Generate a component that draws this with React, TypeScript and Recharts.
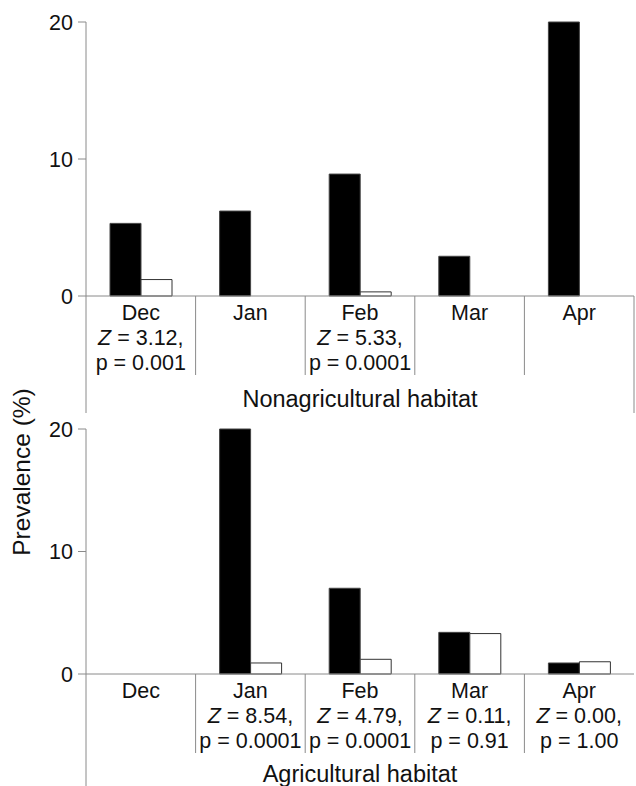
import React from 'react';
import { BarChart, Bar, XAxis, YAxis, Label } from 'recharts';

const months = ['Dec', 'Jan', 'Feb', 'Mar', 'Apr'];

// nonagricultural habitat
const nonAgBlack = [5.3, 6.2, 8.9, 2.9, 20];
const nonAgWhite = [1.2, 0, 0.3, 0, 0];
const nonAgZ = ['3.12', null, '5.33', null, null];
const nonAgP = ['0.001', null, '0.0001', null, null];

// agricultural habitat
const agBlack = [0, 20, 7.0, 3.4, 0.9];
const agWhite = [0, 0.9, 1.2, 3.3, 1.0];
const agZ = [null, '8.54', '4.79', '0.11', '0.00'];
const agP = [null, '0.0001', '0.0001', '0.91', '1.00'];

const yTicks = [0, 10, 20];

const FONT = '"Liberation Sans", Arial, sans-serif';
const AXIS = '#8a8a8a';
const W = 636;
const Y_AXIS_W = 86;
const M_RIGHT = 2;
const HALF_BAND = (W - Y_AXIS_W - M_RIGHT) / months.length / 2;
const TXT = 21.5;

const buildRows = (black: number[], white: number[]) =>
  months.map((m, i) => ({ month: m, black: black[i], white: white[i] }));

function makeTick(
  zs: (string | null)[],
  ps: (string | null)[],
  sepLen: number,
  edgeLen: number,
  rightEdge: boolean
) {
  return (props: any) => {
    const { x, y, payload, index } = props;
    const z = zs[index];
    const p = ps[index];
    const isLast = index === months.length - 1;
    return (
      <g>
        {index === 0 && (
          <line x1={x - HALF_BAND} x2={x - HALF_BAND} y1={y} y2={y + edgeLen} stroke={AXIS} />
        )}
        {!isLast && (
          <line x1={x + HALF_BAND} x2={x + HALF_BAND} y1={y} y2={y + sepLen} stroke={AXIS} />
        )}
        {isLast && rightEdge && (
          <line x1={x + HALF_BAND} x2={x + HALF_BAND} y1={y} y2={y + edgeLen} stroke={AXIS} />
        )}
        <text x={x} y={y + 24} textAnchor="middle" fontSize={TXT} fontFamily={FONT} fill="#111">
          {payload.value}
        </text>
        {z && (
          <text x={x} y={y + 49} textAnchor="middle" fontSize={TXT} fontFamily={FONT} fill="#111">
            <tspan fontStyle="italic">Z</tspan>
            {` = ${z},`}
          </text>
        )}
        {p && (
          <text x={x} y={y + 74} textAnchor="middle" fontSize={TXT} fontFamily={FONT} fill="#111">
            {`p = ${p}`}
          </text>
        )}
      </g>
    );
  };
}

function habitatLabel(text: string, dy: number) {
  return (props: any) => {
    const vb = props.viewBox;
    return (
      <text
        x={vb.x + vb.width / 2}
        y={vb.y + dy}
        textAnchor="middle"
        fontSize={23.5}
        fontFamily={FONT}
        fill="#111"
      >
        {text}
      </text>
    );
  };
}

function Panel(props: {
  rows: { month: string; black: number; white: number }[];
  height: number;
  top: number;
  xHeight: number;
  zs: (string | null)[];
  ps: (string | null)[];
  edgeLen: number;
  rightEdge: boolean;
  label: string;
  labelDy: number;
}) {
  const { rows, height, top, xHeight, zs, ps, edgeLen, rightEdge, label, labelDy } = props;
  return (
    <BarChart
      width={W}
      height={height}
      data={rows}
      margin={{ top, right: M_RIGHT, left: 0, bottom: 0 }}
      barCategoryGap={24}
      barGap={0}
    >
      <XAxis
        dataKey="month"
        height={xHeight}
        stroke={AXIS}
        tickLine={false}
        tickSize={0}
        tickMargin={0}
        interval={0}
        tick={makeTick(zs, ps, 79, edgeLen, rightEdge)}
      >
        <Label content={habitatLabel(label, labelDy)} />
      </XAxis>
      <YAxis
        width={Y_AXIS_W}
        domain={[0, 20]}
        ticks={yTicks}
        stroke={AXIS}
        tickSize={8}
        tickMargin={5}
        tick={{ fill: '#111', fontSize: TXT, fontFamily: FONT }}
      />
      <Bar dataKey="black" fill="#000" stroke="#444" isAnimationActive={false} />
      <Bar dataKey="white" fill="#fff" stroke="#333" isAnimationActive={false} />
    </BarChart>
  );
}

export default function App() {
  return (
    <div style={{ position: 'absolute', left: 0, top: 0, width: W, height: 786, background: '#fff' }}>
      <div style={{ position: 'absolute', left: 0, top: 0 }}>
        <Panel
          rows={buildRows(nonAgBlack, nonAgWhite)}
          height={416}
          top={22}
          xHeight={120}
          zs={nonAgZ}
          ps={nonAgP}
          edgeLen={117}
          rightEdge={true}
          label="Nonagricultural habitat"
          labelDy={111}
        />
      </div>
      <div style={{ position: 'absolute', left: 0, top: 416 }}>
        <Panel
          rows={buildRows(agBlack, agWhite)}
          height={370}
          top={13}
          xHeight={112}
          zs={agZ}
          ps={agP}
          edgeLen={112}
          rightEdge={false}
          label="Agricultural habitat"
          labelDy={108}
        />
      </div>
      <svg
        width={60}
        height={786}
        style={{ position: 'absolute', left: 0, top: 0, pointerEvents: 'none' }}
      >
        <text
          x={0}
          y={0}
          transform="translate(30 472) rotate(-90)"
          textAnchor="middle"
          fontSize={24.5}
          fontFamily={FONT}
          fill="#111"
        >
          Prevalence (%)
        </text>
      </svg>
    </div>
  );
}
